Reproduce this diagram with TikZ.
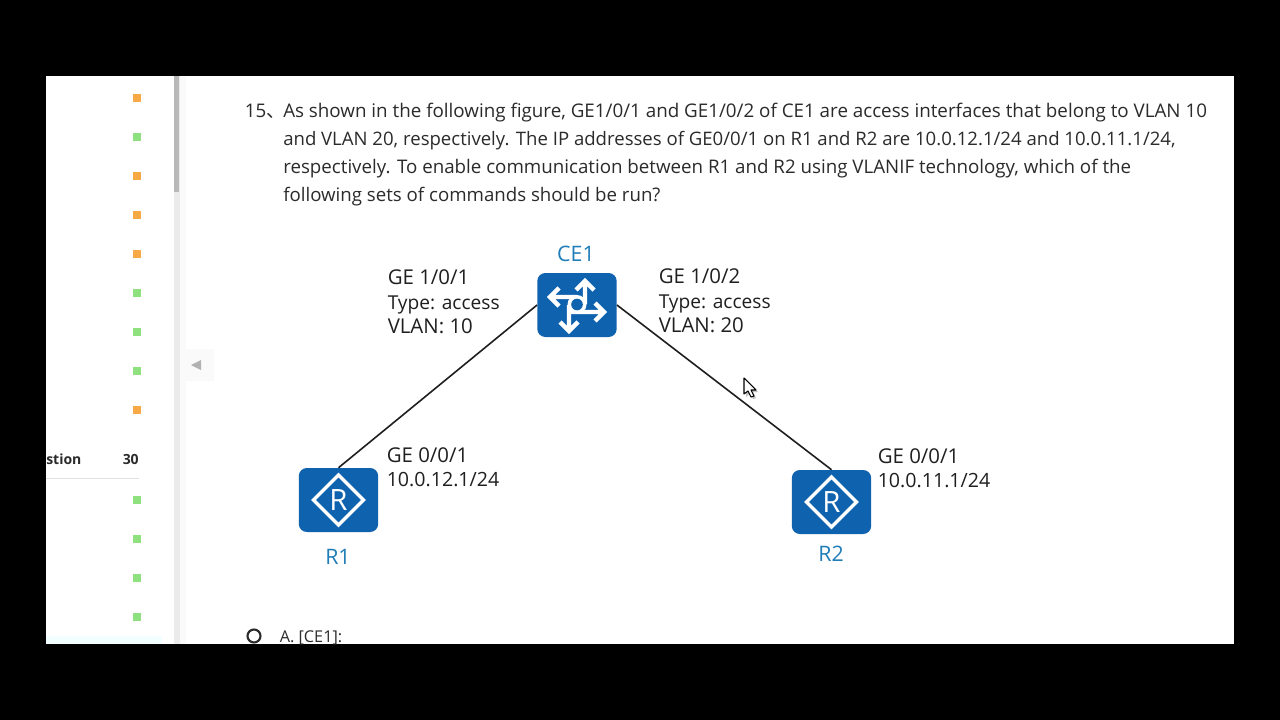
\documentclass[tikz,border=0pt]{standalone}
\usepackage{fontspec}
\setmainfont{Open Sans}
\newfontfamily\cjk{Noto Sans CJK SC}
\definecolor{devblue}{HTML}{0F62AE}
\definecolor{lblblue}{HTML}{1F7DB8}
\definecolor{txt}{HTML}{2B2B2B}
\definecolor{orng}{HTML}{F6A945}
\definecolor{grn}{HTML}{8FE07F}
\tikzset{
  px/.style={x=0.75pt,y=-0.75pt},
  qline/.style={anchor=base west,inner sep=0pt,text=txt,font=\fontsize{#1pt}{16pt}\selectfont},
  qline/.default=14.07,
  lbl/.style={anchor=base west,inner sep=0pt,text=black!88,font=\fontsize{#1pt}{17pt}\selectfont},
  lbl/.default=14.7,
  devlbl/.style={inner sep=0pt,text=lblblue,font=\fontsize{16pt}{18pt}\selectfont},
  device/.style={draw=none,fill=devblue,rounded corners=6pt,minimum width=59.5pt,minimum height=48pt,inner sep=0pt},
  link/.style={draw=black!88,line width=1.2pt},
  icon/.style={draw=white,line width=3.3pt,line join=miter},
  sq/.style={minimum size=6.4pt,inner sep=0pt,draw=none},
}
\begin{document}
\begin{tikzpicture}[px]
\useasboundingbox (0,0) rectangle (1280,720);
\fill[black] (0,0) rectangle (1280,720);
\fill[white] (46,76) rectangle (1234,644);
% sidebar
\fill[black!8] (174,76) rectangle (180,644);
\fill[black!28] (174,76) rectangle (179,192);
\fill[black!2] (180,76) rectangle (186,644);
\fill[black!2] (184,349) rectangle (214,381);
\fill[black!30] (191,365) -- (201,360) -- (201,370) -- cycle;
\foreach \y/\c in {98/orng,137/grn,176/orng,215/orng,254/orng,293/grn,332/grn,371/grn,410/orng,500/grn,539/grn,578/grn,617/grn}
  \node[sq,fill=\c] (s\y) at (137,\y) {};
\node[anchor=base west,inner sep=0pt,text=txt,font=\fontsize{10.5pt}{12pt}\selectfont\bfseries] (stion) at (46,464) {stion};
\node[anchor=base east,inner sep=0pt,text=txt,font=\fontsize{10.5pt}{12pt}\selectfont\bfseries] (thirty) at (139,464) {30};
\draw[black!12,line width=0.75pt] (46,478.5) -- (139,478.5);
\fill[blue!4!cyan!5] (46,636) rectangle (162,644);
% question
\node[qline] (q0) at (244.5,118) {15{\cjk 、}};
\node[qline=14.09] (q1) at (283,118) {As shown in the following figure, GE1/0/1 and GE1/0/2 of CE1 are access interfaces that belong to VLAN 10};
\node[qline=13.93] (q2) at (283,146) {and VLAN 20, respectively. The IP addresses of GE0/0/1 on R1 and R2 are 10.0.12.1/24 and 10.0.11.1/24,};
\node[qline=14.05] (q3) at (283,174) {respectively. To enable communication between R1 and R2 using VLANIF technology, which of the};
\node[qline=14.0] (q4) at (283,202) {following sets of commands should be run?};
% devices
\node[device] (ce1) at (577,305) {};
\node[device] (r1) at (338.5,500) {};
\node[device] (r2) at (831.5,502) {};
\draw[link] (ce1.west) -- (r1.north);
\draw[link] (ce1.east) -- (r2.north);
% switch icon
\draw[icon] (585,304) -- (585,283) (576,290) -- (585,281) -- (594,290);
\draw[icon] (577,297) -- (552,297) (559,288) -- (550,297) -- (559,306);
\draw[icon] (569,312) -- (602,312) (595,303) -- (604,312) -- (595,321);
\draw[icon] (569,305) -- (569,329) (560,322) -- (569,331) -- (578,322);
\fill[white] (577,304.5) circle (9.5);
\fill[devblue] (577,304.5) circle (5.8);
% router icons
\foreach \n in {r1,r2}{
  \draw[white,line width=2.5pt,line join=miter] (\n.center) ++(0,-25) -- ++(25,25) -- ++(-25,25) -- ++(-25,-25) -- cycle;
  \node[inner sep=0pt,text=white,font=\fontsize{22pt}{23pt}\selectfont] (\n t) at (\n.center) {R};
}
% labels
\node[devlbl] (ce1l) at (576,253.5) {CE1};
\node[devlbl] (r1l) at (338,556.5) {R1};
\node[devlbl] (r2l) at (831,553.5) {R2};
\node[lbl=15.3] (a1) at (387.5,284) {GE 1/0/1};
\node[lbl=14.35] (a2) at (387.5,309) {Type: access};
\node[lbl=15.3] (a3) at (387.5,333) {VLAN: 10};
\node[lbl=15.3] (b1) at (658.5,283) {GE 1/0/2};
\node[lbl=14.35] (b2) at (658.5,308) {Type: access};
\node[lbl=15.3] (b3) at (658.5,332) {VLAN: 20};
\node[lbl=15.3] (c1) at (386.5,462) {GE 0/0/1};
\node[lbl=14.7] (c2) at (386.5,486) {10.0.12.1/24};
\node[lbl=15.3] (d1) at (877.5,463) {GE 0/0/1};
\node[lbl=14.7] (d2) at (877.5,487) {10.0.11.1/24};
% cursor
\fill[black!25] (746,380) -- (746,397) -- (750,393) -- (753,399) -- (756,398) -- (753,392) -- (758,392) -- cycle;
\draw[black,fill=white,line width=0.8pt,line join=round] (744,378) -- (744,394) -- (748,391) -- (751,397) -- (754,396) -- (751,390) -- (756,390) -- cycle;
% option A, clipped by the frame
\begin{scope}
\clip (46,76) rectangle (1234,644);
\draw[txt,line width=1.6pt] (254,636) circle (6.5);
\node[anchor=base west,inner sep=0pt,text=txt,font=\fontsize{12.2pt}{14pt}\selectfont] (opta) at (279.5,642) {A. [CE1]:};
\end{scope}
\end{tikzpicture}
\end{document}
